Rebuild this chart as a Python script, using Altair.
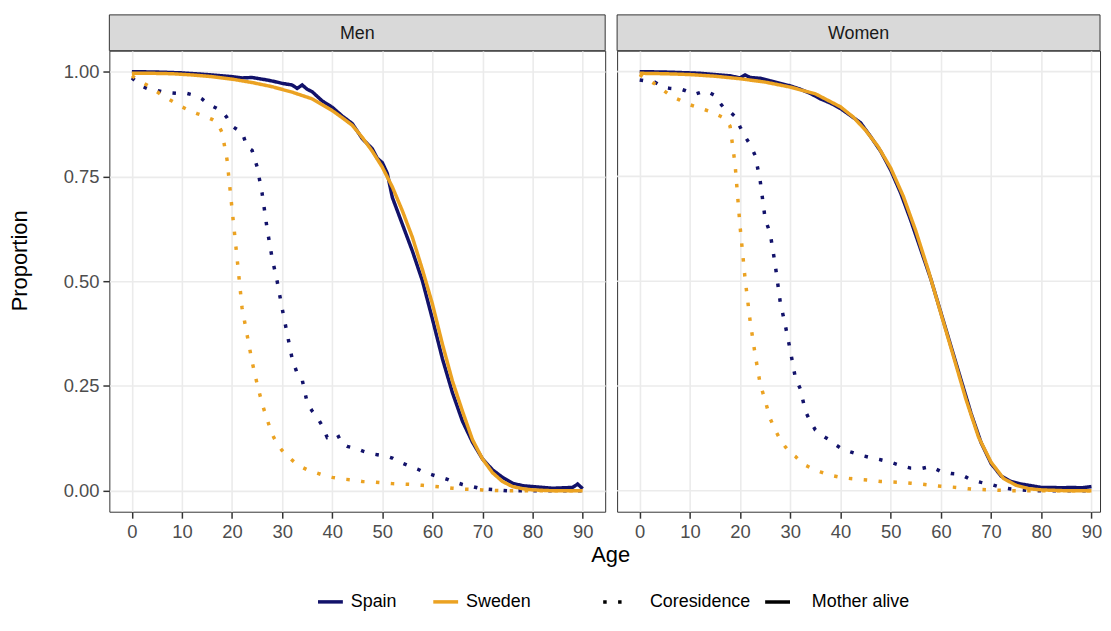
import altair as alt
import pandas as pd

# ---------------- data ----------------
countries = ["Spain", "Sweden"]
measures = ["Coresidence", "Mother alive"]

# Men, coresidence
men_cor_spain_age = [0, 1, 2, 3, 4, 5, 6, 7, 8, 9, 10, 11, 12, 13, 14, 15, 16, 17, 18, 19, 20,
                     21, 22, 23, 24, 25, 26, 27, 28, 29, 30, 31, 32, 33, 34, 35, 36, 37, 38, 39,
                     40, 41, 42, 43, 44, 45, 46, 47, 48, 49, 50, 51, 52, 53, 54, 55, 56, 57, 58,
                     59, 60, 61, 62, 63, 64, 65, 66, 67, 68, 69, 70, 71, 72, 73, 74, 75, 80, 85, 90]
men_cor_spain_val = [0.985, 0.975, 0.965, 0.960, 0.955, 0.955, 0.952, 0.950, 0.949, 0.948, 0.948,
                     0.948, 0.945, 0.942, 0.935, 0.925, 0.918, 0.912, 0.906, 0.890, 0.870, 0.862,
                     0.856, 0.820, 0.812, 0.773, 0.710, 0.625, 0.555, 0.500, 0.435, 0.375, 0.315,
                     0.280, 0.265, 0.210, 0.190, 0.175, 0.155, 0.127, 0.130, 0.135, 0.112, 0.106,
                     0.103, 0.100, 0.095, 0.091, 0.088, 0.086, 0.084, 0.082, 0.078, 0.071, 0.066,
                     0.061, 0.057, 0.052, 0.046, 0.042, 0.038, 0.034, 0.031, 0.027, 0.022, 0.019,
                     0.015, 0.012, 0.010, 0.007, 0.005, 0.004, 0.003, 0.002, 0.001, 0.0, 0.0, 0.0, 0.0]

men_cor_sweden_age = [0, 1, 2, 3, 4, 5, 6, 7, 8, 9, 10, 11, 12, 13, 14, 15, 16, 17, 18, 19, 20,
                      21, 22, 23, 24, 25, 26, 27, 28, 29, 30, 31, 32, 33, 34, 35, 36, 37, 38, 39,
                      40, 42, 44, 46, 48, 50, 52, 54, 56, 58, 60, 62, 64, 66, 68, 70, 72, 74, 80,
                      85, 90]
men_cor_sweden_val = [0.990, 0.982, 0.975, 0.968, 0.960, 0.952, 0.944, 0.937, 0.930, 0.923, 0.916,
                      0.910, 0.905, 0.900, 0.896, 0.891, 0.886, 0.879, 0.855, 0.790, 0.672, 0.555,
                      0.436, 0.372, 0.308, 0.255, 0.208, 0.170, 0.135, 0.112, 0.096, 0.084, 0.073,
                      0.063, 0.056, 0.050, 0.046, 0.042, 0.038, 0.035, 0.032, 0.028, 0.026, 0.022,
                      0.021, 0.019, 0.017, 0.016, 0.015, 0.013, 0.011, 0.009, 0.006, 0.004, 0.003,
                      0.002, 0.001, 0.0, 0.0, 0.0, 0.0]

# Men, mother alive
men_ma_spain_age = [0, 5, 10, 15, 18, 20, 22, 24, 25, 27, 29, 30, 32, 33, 34, 35, 36, 38, 40, 42,
                    44, 46, 48, 49, 50, 51, 52, 54, 56, 58, 60, 62, 64, 66, 68, 70, 72, 74, 76,
                    78, 80, 82, 84, 86, 88, 89, 90]
men_ma_spain_val = [1.000, 0.999, 0.997, 0.993, 0.990, 0.988, 0.985, 0.986, 0.984, 0.980, 0.975,
                    0.972, 0.968, 0.960, 0.968, 0.958, 0.952, 0.930, 0.915, 0.894, 0.876, 0.840,
                    0.816, 0.793, 0.783, 0.757, 0.700, 0.636, 0.572, 0.501, 0.410, 0.315, 0.234,
                    0.166, 0.116, 0.076, 0.050, 0.032, 0.018, 0.012, 0.010, 0.008, 0.006, 0.007,
                    0.008, 0.016, 0.005]

men_ma_sweden_age = [0, 4, 8, 12, 16, 20, 24, 28, 32, 36, 40, 42, 44, 46, 48, 50, 52, 54, 56, 58,
                     60, 62, 64, 66, 68, 70, 72, 74, 76, 78, 80, 84, 90]
men_ma_sweden_val = [0.996, 0.996, 0.995, 0.992, 0.988, 0.982, 0.974, 0.964, 0.951, 0.935, 0.907,
                     0.890, 0.872, 0.843, 0.810, 0.772, 0.725, 0.668, 0.605, 0.528, 0.446, 0.350,
                     0.262, 0.190, 0.122, 0.076, 0.043, 0.022, 0.010, 0.005, 0.002, 0.0, 0.0]

# Women, coresidence
wom_cor_spain_age = [0, 1, 2, 3, 4, 5, 6, 7, 8, 9, 10, 11, 12, 13, 14, 15, 16, 17, 18, 19, 20,
                     21, 22, 23, 24, 25, 26, 27, 28, 29, 30, 31, 32, 33, 34, 35, 36, 37, 38, 39,
                     40, 42, 44, 46, 48, 50, 52, 54, 56, 58, 60, 62, 64, 66, 68, 70, 72, 74, 76,
                     78, 85, 90]
wom_cor_spain_val = [0.980, 0.978, 0.977, 0.975, 0.968, 0.962, 0.960, 0.959, 0.959, 0.955, 0.950,
                     0.946, 0.950, 0.954, 0.949, 0.943, 0.925, 0.910, 0.904, 0.893, 0.868, 0.845,
                     0.826, 0.800, 0.740, 0.648, 0.614, 0.539, 0.450, 0.395, 0.335, 0.270, 0.243,
                     0.190, 0.165, 0.145, 0.135, 0.127, 0.120, 0.110, 0.102, 0.093, 0.085, 0.079,
                     0.074, 0.068, 0.060, 0.054, 0.053, 0.058, 0.046, 0.041, 0.039, 0.026, 0.020,
                     0.015, 0.008, 0.004, 0.002, 0.0, 0.0, 0.0]

wom_cor_sweden_age = [0, 1, 2, 3, 4, 5, 6, 7, 8, 9, 10, 11, 12, 13, 14, 15, 16, 17, 18, 19, 20,
                      21, 22, 23, 24, 25, 26, 27, 28, 29, 30, 31, 32, 33, 34, 35, 36, 38, 40, 42,
                      44, 46, 48, 50, 52, 54, 56, 58, 60, 62, 64, 66, 68, 70, 72, 74, 80, 85, 90]
wom_cor_sweden_val = [0.993, 0.985, 0.978, 0.971, 0.962, 0.953, 0.944, 0.937, 0.932, 0.926, 0.921,
                      0.917, 0.913, 0.909, 0.905, 0.900, 0.894, 0.888, 0.870, 0.779, 0.630, 0.505,
                      0.405, 0.325, 0.255, 0.215, 0.172, 0.145, 0.122, 0.105, 0.090, 0.082, 0.070,
                      0.061, 0.055, 0.050, 0.045, 0.037, 0.032, 0.029, 0.027, 0.025, 0.022, 0.021,
                      0.020, 0.018, 0.016, 0.013, 0.011, 0.009, 0.007, 0.004, 0.003, 0.002, 0.001,
                      0.0, 0.0, 0.0, 0.0]

# Women, mother alive
wom_ma_spain_age = [0, 5, 10, 12, 15, 18, 20, 21, 22, 24, 26, 28, 30, 32, 34, 36, 38, 40, 42, 44,
                    46, 48, 50, 52, 54, 56, 58, 60, 62, 64, 66, 68, 70, 72, 74, 76, 78, 80, 82,
                    84, 86, 88, 90]
wom_ma_spain_val = [1.000, 0.999, 0.997, 0.996, 0.993, 0.990, 0.985, 0.992, 0.986, 0.984, 0.978,
                    0.972, 0.966, 0.958, 0.948, 0.935, 0.925, 0.912, 0.895, 0.878, 0.845, 0.810,
                    0.765, 0.710, 0.645, 0.575, 0.505, 0.425, 0.345, 0.265, 0.185, 0.115, 0.065,
                    0.035, 0.022, 0.016, 0.012, 0.008, 0.008, 0.007, 0.008, 0.007, 0.010]

wom_ma_sweden_age = [0, 5, 10, 15, 20, 25, 30, 35, 40, 42.5, 45, 47.5, 50, 52.5, 55, 57.5, 60,
                     62.5, 65, 67.5, 70, 72.5, 75, 77.5, 80, 85, 90]
wom_ma_sweden_val = [0.996, 0.995, 0.993, 0.989, 0.983, 0.975, 0.963, 0.947, 0.916, 0.892, 0.860,
                     0.821, 0.770, 0.703, 0.620, 0.526, 0.423, 0.321, 0.218, 0.128, 0.068, 0.029,
                     0.013, 0.005, 0.002, 0.0, 0.0]

series = [
    ("Men", "Spain", "Coresidence", men_cor_spain_age, men_cor_spain_val),
    ("Men", "Sweden", "Coresidence", men_cor_sweden_age, men_cor_sweden_val),
    ("Men", "Spain", "Mother alive", men_ma_spain_age, men_ma_spain_val),
    ("Men", "Sweden", "Mother alive", men_ma_sweden_age, men_ma_sweden_val),
    ("Women", "Spain", "Coresidence", wom_cor_spain_age, wom_cor_spain_val),
    ("Women", "Sweden", "Coresidence", wom_cor_sweden_age, wom_cor_sweden_val),
    ("Women", "Spain", "Mother alive", wom_ma_spain_age, wom_ma_spain_val),
    ("Women", "Sweden", "Mother alive", wom_ma_sweden_age, wom_ma_sweden_val),
]
rows = []
for sex, country, measure, ages, vals in series:
    for a, v in zip(ages, vals):
        rows.append({"sex": sex, "country": country, "measure": measure, "age": a, "value": v})
df = pd.DataFrame(rows)

x_ticks = [0, 10, 20, 30, 40, 50, 60, 70, 80, 90]
y_ticks = [0.0, 0.25, 0.5, 0.75, 1.0]

NAVY = "#12126A"
ORANGE = "#EBA222"
FONT = "Liberation Sans"
H = 464
W_LEFT = 499
W_RIGHT = 486
STRIP = 36
GRID = "#EBEBEB"


def panel(sex, width, xmax, left):
    d = df[df["sex"] == sex]
    yscale = alt.Scale(domain=[-0.05, 1.05], nice=False, zero=False)
    if left:
        yaxis = alt.Axis(values=y_ticks, format=".2f", title="Proportion", titleFontSize=22,
                         titleFontWeight="normal", titleColor="#000000", titlePadding=31.5,
                         titleY=211,
                         labelFontSize=18.5, labelColor="#4D4D4D", labelPadding=4,
                         tickSize=6.5, tickColor="#333333", tickWidth=1.5, domain=False,
                         grid=True, gridColor=GRID, gridWidth=1.6)
    else:
        yaxis = None
    xaxis = alt.Axis(values=x_ticks, title=None, labelFontSize=18.5, labelColor="#4D4D4D",
                     labelPadding=4, tickSize=6.5, tickColor="#333333", tickWidth=1.5,
                     domain=False, grid=True, gridColor=GRID, gridWidth=1.6)
    lines = alt.Chart(d).mark_line(strokeWidth=3.5, strokeCap="butt", clip=True).encode(
        x=alt.X("age:Q", scale=alt.Scale(domain=[-4.5, xmax], nice=False, zero=False), axis=xaxis),
        y=alt.Y("value:Q", scale=yscale, axis=yaxis),
        color=alt.Color("country:N",
                        scale=alt.Scale(domain=countries, range=[NAVY, ORANGE]),
                        legend=alt.Legend(title=None, orient="none", direction="horizontal",
                                          legendX=208, legendY=540, symbolType="stroke",
                                          symbolSize=625, symbolStrokeWidth=3.5,
                                          labelFontSize=18, labelColor="#000000",
                                          labelOffset=6, columnPadding=29)),
        strokeDash=alt.StrokeDash("measure:N",
                                  scale=alt.Scale(domain=measures, range=[[3.5, 11.5], [1, 0]]),
                                  legend=alt.Legend(title=None, orient="none", direction="horizontal",
                                                    legendX=495, legendY=540, symbolType="stroke",
                                                    symbolSize=625, symbolStrokeWidth=3.5,
                                                    symbolStrokeColor="#000000",
                                                    labelFontSize=18, labelColor="#000000",
                                                    labelOffset=20, columnPadding=7)),
        order=alt.Order("age:Q"),
    )
    lab = pd.DataFrame({"label": [sex]})
    strip = alt.Chart(lab).mark_rect(fill="#D9D9D9", stroke="#333333", strokeWidth=1).encode(
        x=alt.value(0), x2=alt.value(width), y=alt.value(-STRIP), y2=alt.value(0))
    strip_text = alt.Chart(lab).mark_text(fontSize=18, color="#1A1A1A", baseline="middle",
                                          align="center").encode(
        x=alt.value(width / 2), y=alt.value(-STRIP / 2 + 1), text="label:N")
    layers = []
    if not left:
        grid_df = pd.DataFrame({"value": y_ticks})
        hgrid = alt.Chart(grid_df).mark_rule(color=GRID, strokeWidth=1.6).encode(
            y=alt.Y("value:Q", scale=yscale, axis=None))
        layers.append(hgrid)
    layers += [lines, strip, strip_text]
    if left:
        age_lab = pd.DataFrame({"label": ["Age"]})
        age_text = alt.Chart(age_lab).mark_text(fontSize=22, color="#000000",
                                                baseline="alphabetic", align="center").encode(
            x=alt.value(504.5), y=alt.value(515), text="label:N")
        layers.append(age_text)
    return alt.layer(*layers).properties(width=width, height=H)


left = panel("Men", W_LEFT, 94.5, True)
right = panel("Women", W_RIGHT, 91.7, False)

chart = alt.hconcat(left, right, spacing=12, bounds="flush").properties(
    padding={"left": 0, "top": 4, "right": 0, "bottom": 0}
).configure(font=FONT).configure_view(stroke="#333333", strokeWidth=1)

chart.save("out.html", embed_options={"renderer": "svg", "actions": False})
